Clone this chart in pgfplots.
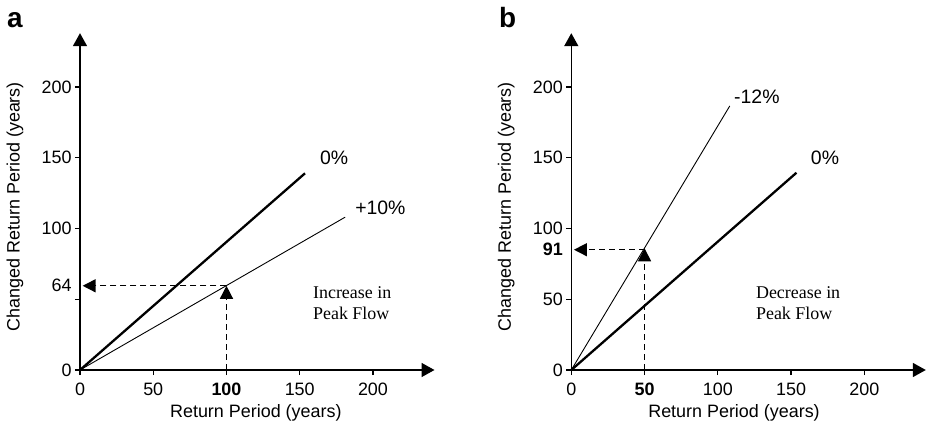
\documentclass[border=0pt]{standalone}
\usepackage{pgfplots}
\pgfplotsset{compat=1.18}
\usepackage{fontspec}
\setmainfont{Liberation Sans}
\newfontfamily\seriffont{Liberation Serif}
\usetikzlibrary{arrows.meta}
\pgfplotsset{
 panel/.style={
  scale only axis, width=354.5bp, height=336.8bp,
  xmin=0,xmax=242,ymin=0,ymax=238, enlargelimits=false,
  axis lines*=left,
  axis line style={line width=1.6bp, -{Triangle[length=13bp,width=14bp]}},
  tick align=outside, major tick length=5bp,
  major tick style={line width=1.2bp,black},
  xtick={0,50,100,150,200}, ytick={0,50,100,150,200},
  tick label style={font=\fontsize{18}{18}\selectfont},
  xticklabel style={yshift=-4bp},
  label style={font=\fontsize{18}{18}\selectfont},
  clip=false,
  /pgf/number format/assume math mode=true,
  xlabel={Return Period (years)}, ylabel={Changed Return Period (years)},
  ylabel style={at={(axis description cs:-0.1834,0.485)},anchor=center},
  extra y tick style={major tick style={draw=none}},
 },
 zero/.style={black, line width=2.3bp},
 thin/.style={black, line width=0.9bp},
 dsh/.style={black, line width=1.4bp, dash pattern=on 6bp off 4bp, -{Triangle[length=13bp,width=13bp]}},
}
\begin{document}
\begin{tikzpicture}
\begin{axis}[panel, at={(80bp,56bp)}, anchor=south west,
  xticklabels={0,50,\textbf{100},150,200},
  yticklabels={0,,100,150,200},
  extra y ticks={59.5}, extra y tick labels={64},
  xlabel style={at={(axis description cs:0.496,-0.1277)},anchor=center}]
\addplot[zero] coordinates {(0,0) (153.6,139)};
\addplot[thin] coordinates {(0,0) (181,108)};
\addplot[dsh] coordinates {(100,59.5) (1.8,59.5)};
\addplot[dsh] coordinates {(100,0) (100,59.5)};
\node[anchor=west, font=\fontsize{19.5}{19.5}\selectfont] at (axis cs:161.5,150) {0\%};
\node[anchor=west, font=\fontsize{19.5}{19.5}\selectfont] at (axis cs:185.5,114.5) {+10\%};
\node[anchor=base west, inner sep=0pt, font=\seriffont\fontsize{18}{18}\selectfont] at (axis cs:159,50.7) {Increase in};
\node[anchor=base west, inner sep=0pt, font=\seriffont\fontsize{18}{18}\selectfont] at (axis cs:159,36) {Peak Flow};
\end{axis}
\begin{axis}[panel, at={(571.3bp,56bp)}, anchor=south west,
  xticklabels={0,\textbf{50},100,150,200},
  yticklabels={0,50,100,150,200},
  extra y ticks={85}, extra y tick labels={\textbf{91}},
  xlabel style={at={(axis description cs:0.459,-0.1277)},anchor=center}]
\addplot[zero] coordinates {(0,0) (153.7,139.4)};
\addplot[thin] coordinates {(0,0) (108.2,186.6)};
\addplot[dsh] coordinates {(50,85) (1.8,85)};
\addplot[dsh] coordinates {(50,0) (50,86)};
\node[anchor=west, font=\fontsize{19.5}{19.5}\selectfont] at (axis cs:161.2,150) {0\%};
\node[anchor=west, font=\fontsize{19.5}{19.5}\selectfont] at (axis cs:108.8,193) {-12\%};
\node[anchor=base west, inner sep=0pt, font=\seriffont\fontsize{18}{18}\selectfont] at (axis cs:126,50.2) {Decrease in};
\node[anchor=base west, inner sep=0pt, font=\seriffont\fontsize{18}{18}\selectfont] at (axis cs:126,35.8) {Peak Flow};
\end{axis}
\node[anchor=base west, inner sep=0pt, font=\bfseries\fontsize{28}{28}\selectfont] at (7bp,398bp) {a};
\node[anchor=base west, inner sep=0pt, font=\bfseries\fontsize{28}{28}\selectfont] at (499bp,398bp) {b};
\pgfresetboundingbox
\useasboundingbox (0,0) rectangle (928bp,426bp);
\end{tikzpicture}
\end{document}
